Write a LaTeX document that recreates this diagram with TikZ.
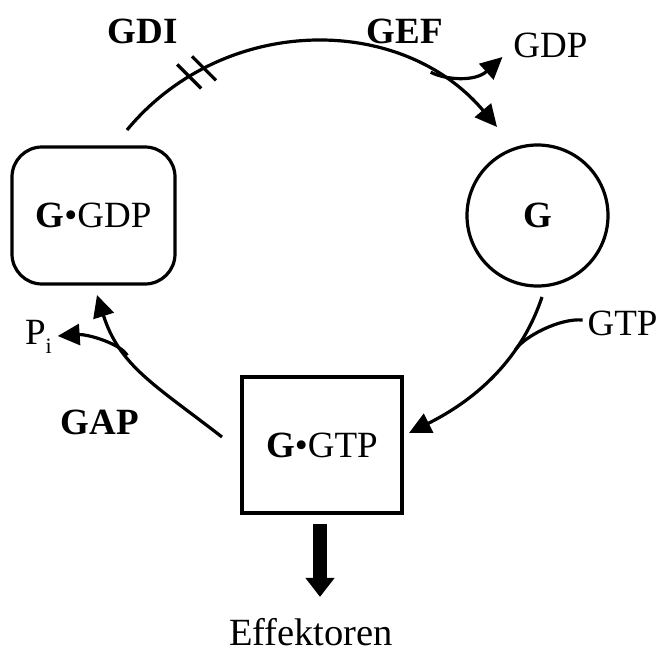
\documentclass[tikz,border=0pt]{standalone}
\usepackage{fontspec}
\setmainfont{Liberation Serif}
\usetikzlibrary{arrows.meta}
\begin{document}
\begin{tikzpicture}[x=1pt,y=-1pt,
  lbl/.style={inner sep=0pt, outer sep=0pt, anchor=base, font=\fontsize{37}{40}\selectfont},
  blbl/.style={lbl, font=\fontsize{37}{40}\selectfont\bfseries},
  state/.style={draw, line width=3.2pt, inner sep=0pt, outer sep=0pt, font=\fontsize{37}{40}\selectfont},
  flow/.style={line width=3.2pt, -{Triangle[length=22pt,width=21pt]}},
  plain/.style={line width=3.2pt},
  bigarrow/.style={line width=14pt, -{Triangle[length=19pt,width=28pt]}},
]
\useasboundingbox (0,0) rectangle (661,653);

% states
\node[state, rounded corners=30pt, minimum width=163pt, minimum height=137pt] (gdp) at (93.5,215.5) {\textbf{G}\textbullet GDP};
\node[state, circle, minimum size=141pt] (g) at (537.5,215.5) {\textbf{G}};
\node[state, minimum width=160pt, minimum height=136pt] (gtp) at (322,445) {\textbf{G}\textbullet GTP};

% labels
\node[blbl] (gdi) at (142.5,43) {GDI};
\node[blbl] (gef) at (405,43) {GEF};
\node[lbl] (gdpout) at (550.5,57) {GDP};
\node[lbl] (gtpin) at (622.5,335) {GTP};
\node[blbl] (gap) at (100,434) {GAP};
\node[lbl, anchor=base west] (pi) at (25,344) {P\raisebox{-9pt}{\fontsize{22}{22}\selectfont i}};
\node[lbl, font=\fontsize{38.5}{40}\selectfont] (eff) at (311,645) {Effektoren};

% top arc (G.GDP -> G)
\draw[flow] ([shift={(33.5,-17)}]gdp.north) .. controls (222.4,14.5) and (400.5,12.4) .. ([shift={(-40.5,-18)}]g.north)
  coordinate[pos=0.19] (h1) coordinate[pos=0.23] (h2) coordinate[pos=0.8] (gefpt);
\draw[plain] ([shift={(-12,-12)}]h1) -- ([shift={(12,12)}]h1);
\draw[plain] ([shift={(-12,-12)}]h2) -- ([shift={(12,12)}]h2);
\draw[flow] (gefpt) .. controls (446,80) and (475,82) .. ([shift={(-11,0)}]gdpout.base west);

% right arc (G -> G.GTP)
\draw[flow] ([shift={(4.5,11)}]g.south) .. controls (520,363) and (472,401.5) .. ([shift={(7,-12)}]gtp.east)
  coordinate[pos=0.3] (gtppt);
\draw[plain] ([shift={(-5,-15)}]gtpin.base west) .. controls (560,318) and (525,336) .. (gtppt);

% left arc (G.GTP -> G.GDP)
\draw[flow] ([shift={(-20,-8)}]gtp.west) .. controls (155,385) and (119.5,366) .. ([shift={(3.5,11)}]gdp.south)
  coordinate[pos=0.64] (gappt);
\draw[flow] (gappt) .. controls (121,344) and (88,334) .. ([shift={(6,-8)}]pi.base east);

% effector arrow
\draw[bigarrow] ([shift={(-2,11)}]gtp.south) -- ([shift={(9,-21)}]eff.north);
\end{tikzpicture}
\end{document}
